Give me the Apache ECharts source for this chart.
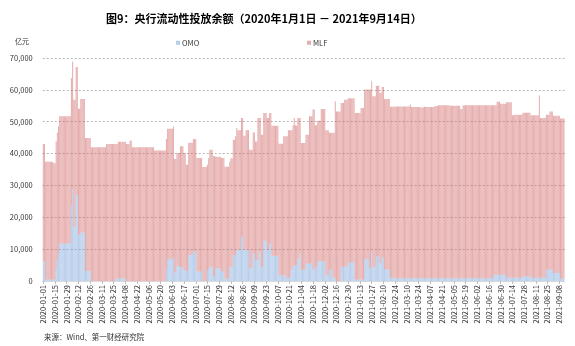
<!DOCTYPE html>
<html>
<head>
<meta charset="utf-8">
<script src="https://cdn.jsdelivr.net/npm/echarts@6/dist/echarts.min.js"></script>
<style>
html,body{margin:0;padding:0;background:#fff;}
#main{width:575px;height:346px;}
</style>
</head>
<body>
<div id="main"></div>
<script>
// Category range: weekdays from start to end (inclusive)
const startDate = '2020-01-01';
const endDate = '2021-09-14';
const titleText = '图9：央行流动性投放余额（2020年1月1日 － 2021年9月14日）';
const unitText = '亿元';
const sourceText = '来源：Wind、第一财经研究院';
const seriesNames = ['OMO', 'MLF'];
const yTicks = [0, 10000, 20000, 30000, 40000, 50000, 60000, 70000];

// OMO balance (亿元), one per weekday
const omo = [
6300,6300,500,500,500,500,500,500,500,300,
300,3500,6600,8600,11800,11800,11800,11800,11800,11800,
11800,11800,11800,11800,23800,28800,17000,17000,27000,27000,
14500,14500,15200,15200,15200,15200,3100,3100,3100,3100,
3100,0,0,0,0,0,0,0,0,0,
0,0,0,0,0,0,0,0,0,0,
0,0,800,800,800,800,800,800,800,800,
800,0,0,0,0,0,0,0,0,0,
0,0,0,0,0,0,0,0,0,0,
0,0,0,0,0,0,0,0,0,0,
0,0,0,0,0,3600,6800,6800,6800,6800,
6800,7500,2600,2600,4700,4700,4700,4300,4300,4300,
3200,3200,3200,3200,8200,8200,8200,8200,9200,9200,
9200,3000,3000,3000,3000,3000,0,0,0,0,
3500,3500,4500,4500,4500,1500,1500,4000,4000,4000,
4000,4000,3000,3000,3000,800,800,800,800,4500,
4500,4500,8200,8200,8200,9700,9700,9700,9700,13900,
13900,9700,9700,9700,9700,9700,4000,4000,4000,8800,
8800,6600,6600,6600,9200,9200,4500,4500,12700,12700,
12700,9700,9700,11800,11800,7900,7900,7900,7900,7900,
7900,1800,1800,1800,1800,1800,1800,1000,1000,1000,
1000,3500,3500,4900,4900,4900,4900,7100,7100,8800,
3500,3500,3500,3500,5500,5500,5500,5500,5500,5500,
3500,3500,4500,4500,6200,6200,6200,6200,6200,6200,
6200,1800,1800,1800,3500,3500,3500,1000,1000,1000,
0,0,0,0,4500,4500,4500,4500,4500,4500,
5800,5800,5800,5800,5800,5800,500,500,500,500,
500,500,500,500,6800,6800,6800,6800,4000,4000,
9200,4500,4500,4500,7800,7800,7800,5600,5600,7400,
7400,3600,3600,3600,3600,3600,1000,1000,1000,1000,
900,900,900,900,900,900,900,900,900,900,
900,900,900,900,900,900,900,900,900,900,
900,900,900,900,900,900,900,900,900,900,
900,900,900,900,900,900,900,900,900,900,
900,900,900,900,900,900,900,900,900,900,
900,900,900,900,900,900,900,900,900,900,
900,900,900,900,900,900,900,900,900,900,
900,900,900,900,900,900,900,900,900,900,
900,900,900,900,2000,2000,2000,2000,2000,2000,
2000,2000,2000,2000,2000,1000,1000,1000,1000,1000,
1000,1000,1000,1000,1000,1000,1000,1000,1000,1500,
1500,1500,1500,1500,1500,1500,1000,1000,1000,1000,
1000,1000,1000,1000,1000,1000,1000,1000,1000,3500,
3500,3500,3500,3500,3500,2500,2500,2500,2500,2500,
2500,800,800,800,800
];

// MLF balance (亿元), one per weekday
const mlf = [
36700,36700,36900,36900,36900,36900,36900,36900,36900,36700,
36700,40300,39900,39900,39900,39900,39900,39900,39900,39900,
39900,39900,39900,39900,39900,40000,39900,39900,40200,40200,
39600,39600,41900,41900,41900,41900,41800,41800,41800,41800,
41800,42000,42000,42000,42000,42000,42000,42000,42000,42000,
42000,42000,42000,42000,43000,43000,43000,43000,43000,43000,
43000,43000,42200,42200,42900,42900,42900,42900,42900,42900,
42900,43000,43000,43000,44000,44000,42000,42000,42000,42000,
42000,42000,42000,42000,42000,42000,42000,42000,42000,42000,
42000,42000,42000,42000,42000,41000,41000,41000,41000,41000,
41000,41000,41000,41000,41000,41000,41000,41000,41000,41000,
41000,41000,35700,35700,35500,35500,35500,38000,38000,38000,
37000,37000,33300,33300,35200,35200,35200,35200,35400,35400,
35400,35600,35600,35600,35600,35600,35800,35800,35800,35800,
33000,35100,36700,36700,36700,37700,37700,35000,35000,35000,
35000,35000,35600,35600,35600,35100,35100,35100,35100,32900,
34000,34000,36100,36100,37200,38300,37600,37600,37600,37300,
37300,35900,35900,37600,37600,37600,37200,37200,37200,37800,
37800,37200,37200,44600,42000,42000,41400,41400,40000,40000,
40000,41500,41500,40900,40900,40800,40800,40800,40800,40800,
40800,41300,41300,41300,41300,43600,43600,44400,44400,46300,
46300,43800,43800,44000,46300,44000,43800,44100,44100,42400,
39800,39800,39800,39800,40400,40400,40400,46200,46200,46200,
50300,50300,44400,44400,44100,44100,44100,47800,47800,47800,
47800,45500,45500,45500,43000,43000,43000,45500,45500,55400,
53200,53200,53200,53200,51400,51400,51400,52400,52400,52400,
51600,51600,51600,51600,51600,51600,52200,52200,52200,52200,
52200,53800,53800,53800,53300,53300,53300,53300,56100,56100,
53500,53500,53500,53500,53500,53500,53500,53500,53500,53500,
53500,53500,53500,53500,53500,53500,53700,53700,53700,53700,
53900,53900,53900,53900,53900,53900,53900,53900,53900,53900,
53900,53900,53900,54500,53700,53700,53700,53700,53700,53700,
53700,53700,53600,53600,53600,53800,53800,53700,53700,53700,
53700,53700,53700,53700,54000,54000,54000,54300,54300,54300,
54300,54300,54300,54300,54300,54300,54300,54100,54100,54100,
54100,54100,54100,54100,54100,54100,53100,53100,54300,54300,
54300,54300,54300,54300,54300,54300,54300,54300,54300,54300,
54300,54300,54300,54300,54300,54300,54300,54300,54300,54300,
54300,54300,54300,54300,53200,53200,53200,54300,54300,54300,
53600,53600,53600,53600,53600,55100,55100,55100,55100,55100,
51000,51000,51200,51200,51200,51200,51200,51200,51200,51300,
51300,51300,51300,51300,51300,51300,51000,51000,51000,51000,
51000,51000,51000,57200,50200,50200,50200,50200,50200,48700,
48700,48700,49700,49700,49700,49400,49400,49400,49400,49400,
49400,50200,50200,50200,50200
];

function weekdayList(s, e) {
  const out = [];
  const d = new Date(s + 'T00:00:00Z');
  const end = new Date(e + 'T00:00:00Z');
  while (d <= end) {
    const wd = d.getUTCDay();
    if (wd !== 0 && wd !== 6) out.push(d.toISOString().slice(0, 10));
    d.setUTCDate(d.getUTCDate() + 1);
  }
  return out;
}
const categories = weekdayList(startDate, endDate);

const FONT = '"Noto Sans CJK SC", "Noto Sans", sans-serif';
const chart = echarts.init(document.getElementById('main'), null, {renderer: 'canvas'});
chart.setOption({
  animation: false,
  backgroundColor: '#fff',
  textStyle: {fontFamily: FONT},
  title: [{
    text: titleText,
    left: 101, top: 8,
    textStyle: {fontSize: 11, fontWeight: 'bold', color: '#000', fontFamily: FONT}
  }, {
    text: unitText, left: 10, top: 33,
    textStyle: {fontSize: 7, fontWeight: 'normal', color: '#333', fontFamily: FONT}
  }, {
    text: sourceText, left: 39, top: 328,
    textStyle: {fontSize: 7.5, fontWeight: 'normal', color: '#333', fontFamily: FONT}
  }],
  legend: [{
    data: [seriesNames[0]], left: 171, top: 34,
    itemWidth: 4, itemHeight: 4, itemGap: 4, icon: 'rect',
    textStyle: {fontSize: 7.5, color: '#333', padding: [0, 0, 0, -3]}
  }, {
    data: [seriesNames[1]], left: 302, top: 34,
    itemWidth: 4, itemHeight: 4, itemGap: 4, icon: 'rect',
    textStyle: {fontSize: 7.5, color: '#333', padding: [0, 0, 0, -3]}
  }],
  grid: {left: 42.7, right: 10.4, top: 58, bottom: 65, containLabel: false},
  xAxis: {
    type: 'category',
    data: categories,
    axisLine: {lineStyle: {color: '#d9d9d9'}},
    axisTick: {show: true, interval: 9, alignWithLabel: true, length: 3, lineStyle: {color: '#bfbfbf'}},
    axisLabel: {
      interval: 9, rotate: 90, fontSize: 7.5, color: '#333', margin: 4,
      fontFamily: FONT
    }
  },
  yAxis: {
    type: 'value',
    min: yTicks[0], max: yTicks[yTicks.length - 1], interval: 10000,
    axisLine: {show: false},
    axisTick: {show: false},
    axisLabel: {
      fontSize: 7.5, color: '#333', margin: 10, fontFamily: FONT,
      formatter: v => v.toLocaleString('en-US')
    },
    splitLine: {lineStyle: {color: '#b8b8b8', type: [2, 2], width: 1}}
  },
  series: [{
    name: seriesNames[0], type: 'bar', stack: 'total',
    data: omo, barCategoryGap: '25%',
    itemStyle: {color: 'rgba(110,155,215,0.5)'}
  }, {
    name: seriesNames[1], type: 'bar', stack: 'total',
    data: mlf, barCategoryGap: '25%',
    itemStyle: {color: 'rgba(205,90,90,0.5)'}
  }]
});
</script>
</body>
</html>
